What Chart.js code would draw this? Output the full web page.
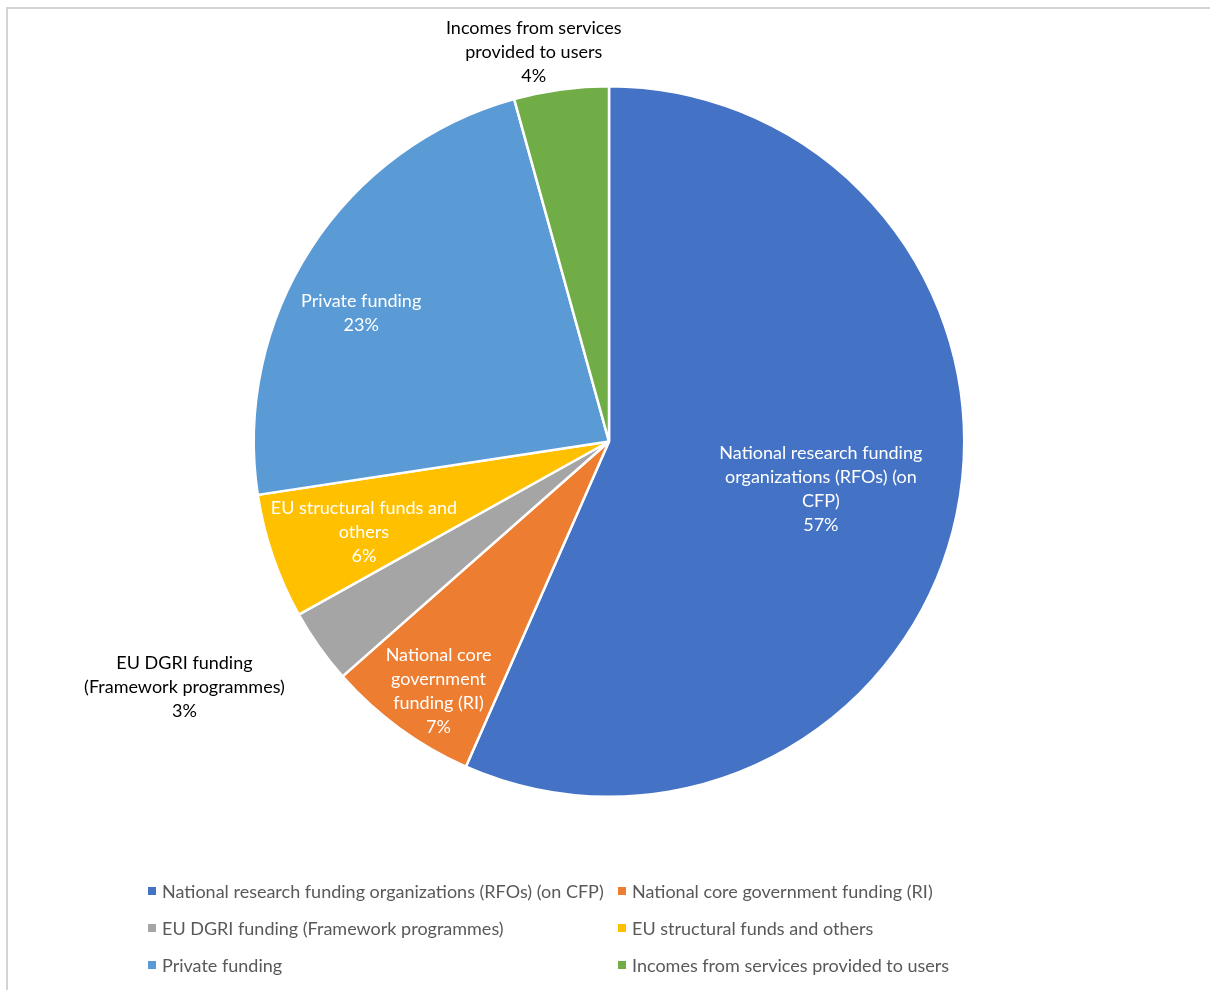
<!DOCTYPE html>
<html>
<head>
<meta charset="utf-8">
<script src="https://cdn.jsdelivr.net/npm/chart.js@4"></script>
<style>
  html, body { margin: 0; padding: 0; background: #fff; overflow: hidden; }
  #wrap { position: relative; width: 1210px; height: 990px; }
  #frame { position: absolute; left: 6px; top: 7px; width: 1300px; height: 1100px;
           border: 2px solid #d4d4d4; box-sizing: border-box; }
  #chart { position: absolute; left: 0; top: 0; }
  #legend { position: absolute; left: 148px; top: 879px; display: grid;
            grid-template-columns: 470px 400px; row-gap: 13px;
            font-family: Lato, "Open Sans", sans-serif; font-size: 18px; color: #595959; }
  .item { display: flex; align-items: center; height: 24px; white-space: nowrap; }
  .sw { width: 8px; height: 8px; margin-right: 6px; flex: none; }
</style>
</head>
<body>
<div id="wrap">
  <div id="frame"></div>
  <canvas id="chart" width="1210" height="990"></canvas>
  <div id="legend"></div>
</div>
<script>
// Funding sources (share of total, %)
const categories = [
  "National research funding organizations (RFOs) (on CFP)",
  "National core government funding (RI)",
  "EU DGRI funding (Framework programmes)",
  "EU structural funds and others",
  "Private funding",
  "Incomes from services provided to users"
];
const shares = [56.6, 6.9, 3.4, 5.7, 23.1, 4.3];

// Wrapped text of each slice label (percentage line is appended)
const labelLines = [
  ["National research funding", "organizations (RFOs) (on", "CFP)"],
  ["National core", "government", "funding (RI)"],
  ["EU DGRI funding", "(Framework programmes)"],
  ["EU structural funds and", "others"],
  ["Private funding"],
  ["Incomes from services", "provided to users"]
];

const colors = ["#4472C4", "#ED7D31", "#A5A5A5", "#FFC000", "#5B9BD5", "#70AD47"];

// Label placement: fraction of radius from centre, angle nudge (degrees), text colour
const labelLayout = [
  { r: 0.611, da: 0.7,  color: "#ffffff" },
  { r: 0.852, da: -1.9, color: "#ffffff" },
  { r: 1.381, da: 5.2,  color: "#000000" },
  { r: 0.736, da: -1.5, color: "#ffffff" },
  { r: 0.786, da: -5.5, color: "#ffffff" },
  { r: 1.116, da: -3.2, color: "#000000" }
];

const sliceLabels = {
  id: "sliceLabels",
  afterDatasetsDraw(chart) {
    const ctx = chart.ctx;
    const meta = chart.getDatasetMeta(0);
    const data = chart.data.datasets[0].data;
    const total = data.reduce((a, b) => a + b, 0);
    ctx.save();
    ctx.font = "18px Lato, 'Open Sans', sans-serif";
    ctx.textAlign = "center";
    ctx.textBaseline = "middle";
    const lh = 24;
    meta.data.forEach((arc, i) => {
      const p = arc.getProps(["x", "y", "startAngle", "endAngle", "outerRadius"], true);
      const lay = labelLayout[i];
      const mid = (p.startAngle + p.endAngle) / 2 + lay.da * Math.PI / 180;
      const cx = p.x + Math.cos(mid) * p.outerRadius * lay.r;
      const cy = p.y + Math.sin(mid) * p.outerRadius * lay.r;
      const lines = labelLines[i].concat([Math.round(data[i] / total * 100) + "%"]);
      const top = cy - (lines.length - 1) * lh / 2;
      ctx.fillStyle = lay.color;
      lines.forEach((t, k) => ctx.fillText(t, cx, top + k * lh));
    });
    ctx.restore();
  }
};

new Chart(document.getElementById("chart"), {
  type: "pie",
  data: {
    labels: categories,
    datasets: [{
      data: shares,
      backgroundColor: colors,
      borderColor: "#ffffff",
      borderWidth: 2.5
    }]
  },
  options: {
    responsive: false,
    animation: false,
    layout: { padding: { top: 85, bottom: 192, left: 8, right: 0 } },
    plugins: { legend: { display: false }, tooltip: { enabled: false } }
  },
  plugins: [sliceLabels]
});

// Two-column legend built from the same categories and colours
const legend = document.getElementById("legend");
categories.forEach((name, i) => {
  const item = document.createElement("div");
  item.className = "item";
  const sw = document.createElement("span");
  sw.className = "sw";
  sw.style.background = colors[i];
  const txt = document.createElement("span");
  txt.textContent = name;
  item.appendChild(sw);
  item.appendChild(txt);
  legend.appendChild(item);
});
</script>
</body>
</html>
